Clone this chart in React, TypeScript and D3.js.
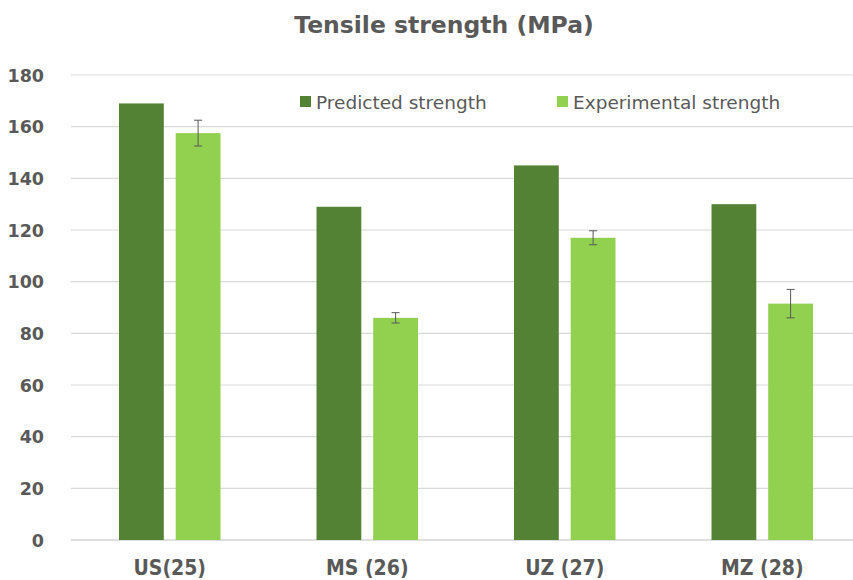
import React from 'react';
import * as d3 from 'd3';

const categories = ['US(25)', 'MS (26)', 'UZ (27)', 'MZ (28)'];
const predicted = [169, 129, 145, 130];
const experimental = [157.5, 86, 117, 91.5];
const experimentalErr = [5, 2, 2.7, 5.5];
const yTicks = [0, 20, 40, 60, 80, 100, 120, 140, 160, 180];
const seriesNames = ['Predicted strength', 'Experimental strength'];
const seriesColors = ['#548235', '#92D050'];

const W = 853;
const H = 580;
const TEXT = '#595959';

const App = () => {
    // plot area runs a bit past the right edge, as in the source image
    const x = d3.scaleBand<string>().domain(categories).range([71, 861]);
    const y = d3.scaleLinear().domain([0, 180]).range([540, 75]);
    const inner = d3.scaleBand<number>().domain([0, 1]).range([48, x.bandwidth() - 48]).paddingInner(0.21);

    return (
        <svg width={W} height={H} style={{ display: 'block', position: 'absolute', left: 0, top: 0, background: '#fff' }}>
            <text x={444} y={33} textAnchor="middle" fill={TEXT} fontFamily="DejaVu Sans" fontWeight="bold" fontSize={23.5}>
                Tensile strength (MPa)
            </text>

            {/* grid + y ticks */}
            {yTicks.map(t => (
                <g key={t}>
                    <line x1={71} x2={W} y1={y(t)} y2={y(t)} stroke={t === 0 ? '#BFBFBF' : '#D9D9D9'} strokeWidth={1.2} />
                    <text x={44} y={y(t) + 6.5} textAnchor="end" fill={TEXT} fontFamily="DejaVu Sans" fontWeight="bold" fontSize={17.5}>
                        {t}
                    </text>
                </g>
            ))}

            {/* bars */}
            {categories.map((c, i) => {
                const x0 = x(c)!;
                const xe = x0 + inner(1)! + inner.bandwidth() / 2;
                return (
                    <g key={c}>
                        <rect x={x0 + inner(0)!} y={y(predicted[i])} width={inner.bandwidth()} height={y(0) - y(predicted[i])} fill={seriesColors[0]} />
                        <rect x={x0 + inner(1)!} y={y(experimental[i])} width={inner.bandwidth()} height={y(0) - y(experimental[i])} fill={seriesColors[1]} />
                        <g stroke="#595959" strokeWidth={1}>
                            <line x1={xe} x2={xe} y1={y(experimental[i] + experimentalErr[i])} y2={y(experimental[i] - experimentalErr[i])} />
                            <line x1={xe - 4} x2={xe + 4} y1={y(experimental[i] + experimentalErr[i])} y2={y(experimental[i] + experimentalErr[i])} />
                            <line x1={xe - 4} x2={xe + 4} y1={y(experimental[i] - experimentalErr[i])} y2={y(experimental[i] - experimentalErr[i])} />
                        </g>
                        <text x={x0 + x.bandwidth() / 2} y={575} textAnchor="middle" fill={TEXT} fontFamily="DejaVu Sans Condensed" fontWeight="bold" fontSize={21}>
                            {c}
                        </text>
                    </g>
                );
            })}

            {/* legend */}
            {seriesNames.map((s, i) => {
                const lx = [300, 557][i];
                return (
                    <g key={s}>
                        <rect x={lx} y={96} width={11} height={11} fill={seriesColors[i]} />
                        <text x={lx + 16} y={108.5} fill={TEXT} fontFamily="DejaVu Sans" fontSize={18.5}>
                            {s}
                        </text>
                    </g>
                );
            })}
        </svg>
    );
};

export default App;
